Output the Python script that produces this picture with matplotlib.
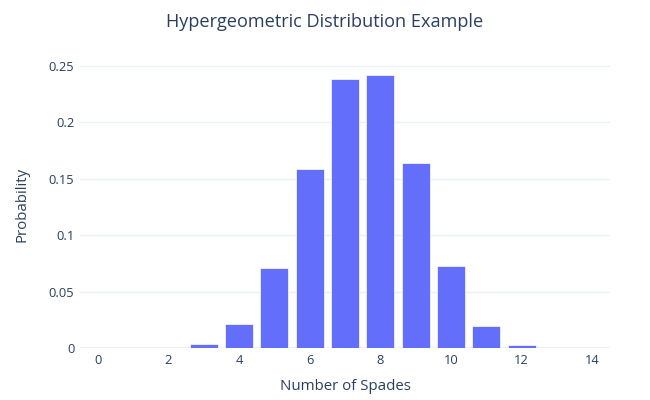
import numpy as np
import matplotlib.pyplot as plt
from matplotlib.ticker import FixedLocator, FuncFormatter

# values
spades = list(range(15))
probability = [0.000005, 0.00004, 0.0003, 0.0033, 0.021, 0.0713, 0.159, 0.2385,
               0.242, 0.164, 0.0725, 0.0192, 0.0024, 0.0002, 0.00001]
x_ticks = [0, 2, 4, 6, 8, 10, 12, 14]
y_ticks = [0, 0.05, 0.1, 0.15, 0.2, 0.25]

plt.rcParams['font.family'] = ['Open Sans', 'DejaVu Sans']
text_color = '#2a3f5f'
grid_color = '#ebf0f8'
px = 0.77  # plotly pixel sizes -> points at 100 dpi

fig = plt.figure(figsize=(6.5, 4.0), dpi=100)
ax = fig.add_axes([80 / 650, 52 / 400, 530 / 650, 286.5 / 400])

ax.bar(spades, probability, width=0.8, color='#636efa',
       edgecolor='white', linewidth=0.5, zorder=3)

ax.set_xlim(-0.5, 14.5)
ax.set_ylim(0, 0.254)
ax.xaxis.set_major_locator(FixedLocator(x_ticks))
ax.yaxis.set_major_locator(FixedLocator(y_ticks))
ax.yaxis.set_major_formatter(FuncFormatter(lambda v, p: '0' if v == 0 else ('%g' % v)))

ax.grid(axis='y', color=grid_color, linewidth=1, zorder=0)
ax.axhline(0, color=grid_color, linewidth=2, zorder=2)
for side in ax.spines.values():
    side.set_visible(False)
ax.tick_params(length=0, labelsize=12 * px, colors=text_color)
ax.tick_params(axis='x', pad=4)
ax.tick_params(axis='y', pad=4)

ax.set_xlabel('Number of Spades', fontsize=14 * px, color=text_color, labelpad=9)
ax.set_ylabel('Probability', fontsize=14 * px, color=text_color, labelpad=14)
fig.text(0.5, 1 - 22 / 400, 'Hypergeometric Distribution Example',
         ha='center', va='center', fontsize=17 * px, color=text_color)

fig.savefig('out.png', dpi=100, facecolor='white')
